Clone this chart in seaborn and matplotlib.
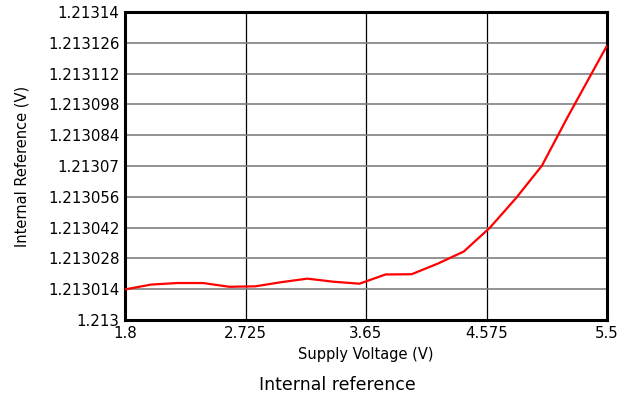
import numpy as np
import pandas as pd
import seaborn as sns
import matplotlib.pyplot as plt
from matplotlib.ticker import FixedLocator, FixedFormatter

sns.set_style("white")
plt.rcParams['font.family'] = ['DejaVu Sans']
plt.rcParams['text.color'] = 'black'
plt.rcParams['axes.labelcolor'] = 'black'

# data
supply_v = [1.8, 2.0, 2.2, 2.4, 2.6, 2.8, 3.0, 3.2, 3.4, 3.6,
            3.8, 4.0, 4.2, 4.4, 4.6, 4.8, 5.0, 5.2, 5.4, 5.5]
int_ref = [1.2130139, 1.2130161, 1.2130168, 1.2130168, 1.2130151, 1.2130153,
           1.2130172, 1.2130188, 1.2130174, 1.2130165, 1.2130207, 1.2130208,
           1.2130256, 1.2130311, 1.2130419, 1.2130553, 1.2130701, 1.2130925,
           1.2131140, 1.2131247]

x_ticks = [1.8, 2.725, 3.65, 4.575, 5.5]
x_labels = ["1.8", "2.725", "3.65", "4.575", "5.5"]
y_ticks = [1.213 + i * 0.000014 for i in range(11)]
y_labels = ["1.213", "1.213014", "1.213028", "1.213042", "1.213056", "1.21307",
            "1.213084", "1.213098", "1.213112", "1.213126", "1.21314"]

df = pd.DataFrame({"Supply Voltage (V)": supply_v, "Internal Reference (V)": int_ref})

fig = plt.figure(figsize=(6.29, 4.05), dpi=100)
ax = fig.add_axes([125 / 629, 1 - 320 / 405, 482 / 629, 308 / 405])

sns.lineplot(data=df, x="Supply Voltage (V)", y="Internal Reference (V)",
             ax=ax, color="#ff0000", linewidth=1.6, zorder=3)

ax.set_xlim(1.8, 5.5)
ax.set_ylim(1.213, 1.21314)
ax.xaxis.set_major_locator(FixedLocator(x_ticks))
ax.xaxis.set_major_formatter(FixedFormatter(x_labels))
ax.yaxis.set_major_locator(FixedLocator(y_ticks))
ax.yaxis.set_major_formatter(FixedFormatter(y_labels))

# grid: black verticals, gray horizontals
ax.grid(False)
for xv in x_ticks[1:-1]:
    ax.axvline(xv, color="black", linewidth=0.9, zorder=1)
for yv in y_ticks[1:-1]:
    ax.axhline(yv, color="#808080", linewidth=1.2, zorder=1)

for s in ax.spines.values():
    s.set_color("black")
    s.set_linewidth(2.2)

ax.tick_params(axis="both", labelsize=10.8, length=3, width=0.8, color="black",
               direction="out", pad=1, colors="black")
ax.set_xlabel("Supply Voltage (V)", fontsize=10.5, labelpad=5)
ax.set_ylabel("Internal Reference (V)", fontsize=10.5, labelpad=13)

fig.text(337 / 629, 1 - 385 / 405, "Internal reference", ha="center", va="center",
         fontsize=12.5)

plt.savefig("out.png", dpi=100)
